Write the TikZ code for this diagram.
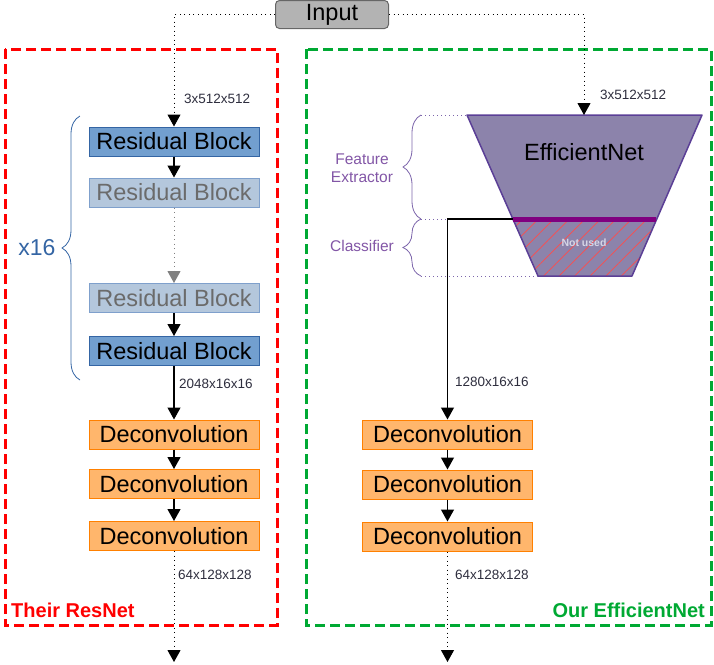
\documentclass[tikz,border=0pt]{standalone}
\usepackage{fontspec}
\setmainfont{Liberation Sans}
\usetikzlibrary{arrows.meta,decorations.pathreplacing,patterns.meta}
\definecolor{bdark}{HTML}{3465A4}
\definecolor{bfill}{HTML}{729FCF}
\definecolor{lfill}{HTML}{B4C7DC}
\definecolor{lborder}{HTML}{7FA0CC}
\definecolor{lgray}{HTML}{6B6B6B}
\definecolor{dfill}{HTML}{FFB66C}
\definecolor{dborder}{HTML}{FF8000}
\definecolor{trapfill}{HTML}{8C83AB}
\definecolor{trapline}{HTML}{5B3F96}
\definecolor{bandcol}{HTML}{800080}
\definecolor{purptext}{HTML}{8256A6}
\definecolor{lbltext}{HTML}{2E2E3E}
\definecolor{frred}{HTML}{FF0000}
\definecolor{frgreen}{HTML}{00A933}
\definecolor{inputfill}{HTML}{B3B3B3}
\definecolor{inputline}{HTML}{666666}
\definecolor{nottext}{HTML}{D6D6E6}
\begin{document}
\begin{tikzpicture}[x=1pt,y=-1pt,
  bigfont/.style={font=\fontsize{23.5}{24}\selectfont},
  box/.style={bigfont, minimum width=170pt, minimum height=29pt, inner sep=0pt, line width=1pt},
  resdark/.style={box, draw=bdark, fill=bfill},
  reslight/.style={box, draw=lborder, fill=lfill, text=lgray},
  deconv/.style={box, draw=dborder, fill=dfill},
  arr/.style={-{Triangle[width=13pt,length=12pt]}, line width=1.2pt},
  dotarr/.style={-{Triangle[width=13pt,length=12pt]}, line width=1pt, dash pattern=on 1pt off 3.5pt},
  lbl/.style={font=\fontsize{13.5}{14}\selectfont, text=lbltext, anchor=west, inner sep=0pt},
  frame/.style={line width=3pt, dash pattern=on 10pt off 5pt},
  purpbrace/.style={draw=trapline!80, line width=0.8pt, decorate, decoration={brace, amplitude=18pt}},
  purpdots/.style={draw=trapline!80, line width=1pt, dash pattern=on 1pt off 3pt},
  purplbl/.style={font=\fontsize{15.5}{18}\selectfont, text=purptext, align=center, inner sep=0pt}
]
\useasboundingbox (0,0) rectangle (714,664);

% frames
\draw[frame, draw=frred] (5,49) rectangle (277,625);
\draw[frame, draw=frgreen] (306,49) rectangle (711,625);
\node[font=\bfseries\fontsize{20}{20}\selectfont, text=frred, anchor=west, inner sep=0pt] (theirlbl) at (11,610) {Their ResNet};
\node[font=\bfseries\fontsize{20}{20}\selectfont, text=frgreen, anchor=east, inner sep=0pt] (ourlbl) at (705,610) {Our EfficientNet};

% input
\node[bigfont, draw=inputline, fill=inputfill, rounded corners=4pt, minimum width=113pt, minimum height=28pt, inner sep=0pt, line width=1pt] (input) at (332,14.5) {Input};

% left column
\node[resdark] (rb1) at (174,141.5) {Residual Block};
\node[reslight] (rb2) at (174,192.5) {Residual Block};
\node[reslight] (rb3) at (174,298) {Residual Block};
\node[resdark] (rb4) at (174,351) {Residual Block};
\node[deconv] (dl1) at (174,434.5) {Deconvolution};
\node[deconv] (dl2) at (174,484) {Deconvolution};
\node[deconv] (dl3) at (174,536) {Deconvolution};
\coordinate (outl) at (174,662);

\draw[dotarr] (input.west) -| (rb1.north);
\draw[arr] (rb1) -- (rb2);
\draw[dotarr, draw=gray, -{Triangle[width=13pt,length=12pt,fill=gray]}] (rb2) -- (rb3);
\draw[arr] (rb3) -- (rb4);
\draw[arr] (rb4) -- (dl1);
\draw[arr] (dl1) -- (dl2);
\draw[arr] (dl2) -- (dl3);
\draw[dotarr] (dl3) -- (outl);

\node[lbl] (l1) at (184,99) {3x512x512};
\node[lbl] (l2) at (179,384) {2048x16x16};
\node[lbl] (l3) at (178,575) {64x128x128};

\draw[draw=bdark, line width=0.8pt, decorate, decoration={brace, amplitude=18pt}] (80,380) -- (80,116);
\node[font=\fontsize{23}{23}\selectfont, text=bdark, inner sep=0pt] (x16) at (37,248) {x16};

% EfficientNet trapezoid
\coordinate (tl) at (467,115);
\coordinate (tr) at (702,115);
\coordinate (br) at (632,276);
\coordinate (bl) at (538,276);
\coordinate (ml) at (513,219);
\coordinate (mr) at (656,219);
\coordinate (topin) at (584,115);
\fill[trapfill] (tl) -- (tr) -- (br) -- (bl) -- cycle;
\fill[pattern={Lines[angle=45,distance=11pt,line width=0.7pt]}, pattern color=red!70] (ml) -- (mr) -- (br) -- (bl) -- cycle;
\draw[trapline, line width=1.5pt, line join=round] (tl) -- (tr) -- (br) -- (bl) -- cycle;
\draw[bandcol, line width=5pt] (ml) -- (mr);
\node[bigfont] (effname) at (584,152) {EfficientNet};
\node[font=\bfseries\fontsize{10.5}{11}\selectfont, text=nottext, inner sep=0pt] (notused) at (584,243) {Not used};

\draw[dotarr] (input.east) -| (topin);
\node[lbl] (r1) at (600,95) {3x512x512};

% braces right
\coordinate (fb1) at (421,115);
\coordinate (fb2) at (421,219);
\coordinate (fb3) at (421,276);
\coordinate (joint) at (447.5,219);
\draw[purpbrace] (fb2) -- (fb1);
\draw[purpbrace] (fb3) -- (fb2);
\draw[purpdots] (fb1) -- (tl);
\draw[purpdots] (fb2) -- (joint);
\draw[purpdots] (fb3) -- (bl);
\node[purplbl] (fe) at (362,168) {Feature\\Extractor};
\node[purplbl] (cl) at (362,246) {Classifier};

% right column
\node[deconv] (dr1) at (447.5,434.5) {Deconvolution};
\node[deconv] (dr2) at (447.5,484.5) {Deconvolution};
\node[deconv] (dr3) at (447.5,536.5) {Deconvolution};
\coordinate (outr) at (447.5,662);

\draw[arr] (ml) -| (dr1.north);
\draw[arr] (dr1) -- (dr2);
\draw[arr] (dr2) -- (dr3);
\draw[dotarr] (dr3) -- (outr);

\node[lbl] (r2) at (455,382) {1280x16x16};
\node[lbl] (r3) at (455,575) {64x128x128};
\end{tikzpicture}
\end{document}
